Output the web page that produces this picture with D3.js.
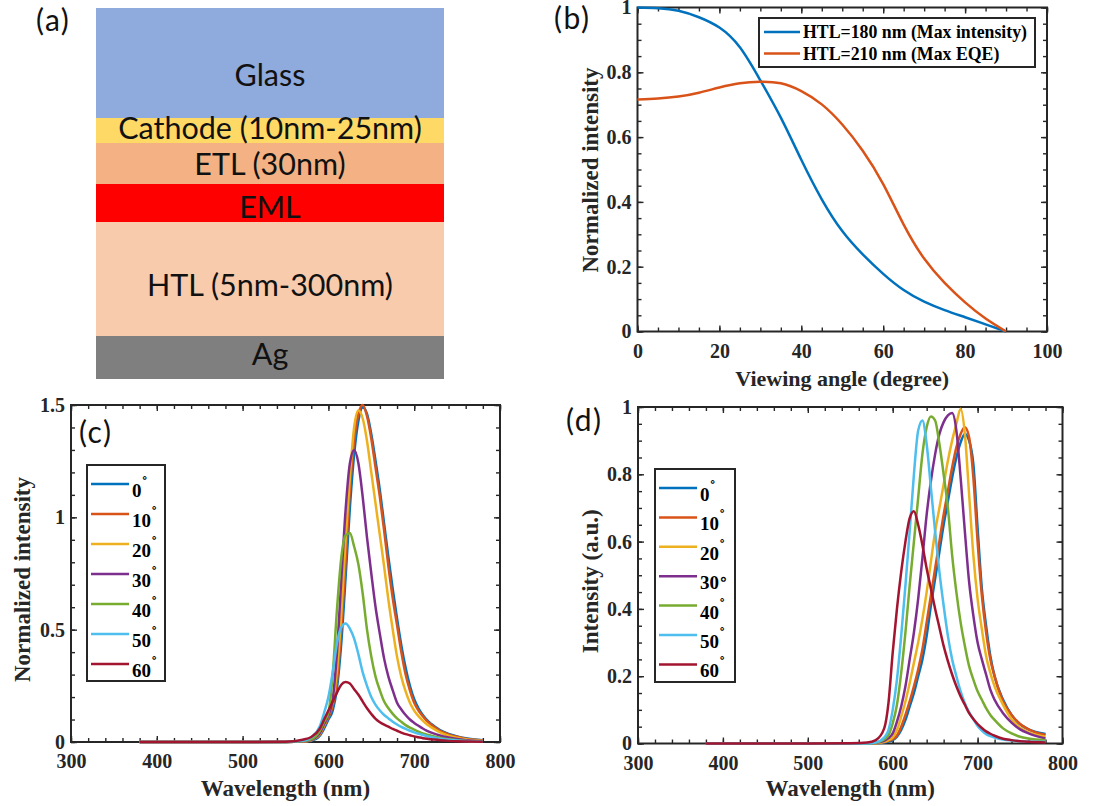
<!DOCTYPE html>
<html>
<head>
<meta charset="utf-8">
<script src="https://cdn.jsdelivr.net/npm/d3@7/dist/d3.min.js"></script>
<style>
html,body{margin:0;padding:0;background:#fff;}
svg{display:block;}
</style>
</head>
<body>
<svg id="fig" width="1106" height="806"></svg>
<script>
// ---------- (a) device stack ----------
const layerNames  = ["Glass", "Cathode (10nm-25nm)", "ETL (30nm)", "EML", "HTL (5nm-300nm)", "Ag"];
const layerWeight = [110, 25, 41, 38, 114, 43];
const layerColors = ["#8FAADC", "#FFD966", "#F4B183", "#FF0000", "#F8CBAD", "#7F7F7F"];

// ---------- (b) angular distribution ----------
const viewAngle = [0, 5, 10, 15, 20, 25, 30, 35, 40, 45, 50, 55, 60, 65, 70, 75, 80, 85, 90];
const htl180 = [1.0, 0.998, 0.99, 0.97, 0.938, 0.877, 0.775, 0.66, 0.53, 0.408, 0.31, 0.238, 0.178, 0.128, 0.092, 0.066, 0.044, 0.022, 0];
const htl210 = [0.716, 0.719, 0.725, 0.737, 0.753, 0.766, 0.771, 0.766, 0.742, 0.701, 0.639, 0.558, 0.455, 0.33, 0.225, 0.15, 0.09, 0.04, 0];
const legendB = ["HTL=180 nm (Max intensity)", "HTL=210 nm (Max EQE)"];
const bTicksX = [0, 20, 40, 60, 80, 100];
const bTicksY = [0, 0.2, 0.4, 0.6, 0.8, 1];

// ---------- (c), (d) spectra ----------
const wavelength = [380, 450, 500, 550, 570, 580, 590, 595, 600, 605, 610, 615, 620, 625, 630, 635, 640, 645,
                    650, 655, 660, 665, 670, 675, 680, 685, 690, 695, 700, 705, 710, 715, 720, 730, 740, 750, 760, 780];
const emitAngles = [0, 10, 20, 30, 40, 50, 60];

// (c) normalized intensity
const normAt0  = [0,0,0,0, 0.002,0.006,0.028,0.06, 0.10,0.14,0.24,0.44,0.73,1.04,1.28,1.43,1.49,1.46, 1.37,1.25,1.12,0.97,0.82,0.68,0.55,0.43,0.33,0.25, 0.19,0.15,0.12,0.097,0.08, 0.053,0.036,0.025,0.017,0.008];
const normAt10 = [0,0,0,0, 0.002,0.008,0.033,0.07, 0.11,0.16,0.27,0.50,0.80,1.12,1.34,1.46,1.50,1.45, 1.35,1.22,1.09,0.94,0.78,0.64,0.52,0.40,0.30,0.23, 0.175,0.14,0.115,0.093,0.077, 0.05,0.034,0.023,0.015,0.007];
const normAt20 = [0,0,0,0, 0.002,0.009,0.037,0.075, 0.12,0.18,0.32,0.57,0.90,1.18,1.40,1.475,1.44,1.34, 1.20,1.06,0.92,0.78,0.63,0.50,0.38,0.29,0.225,0.175, 0.14,0.115,0.095,0.078,0.065, 0.043,0.028,0.019,0.012,0.006];
const normAt30 = [0,0,0,0, 0.003,0.01,0.04,0.08, 0.12,0.19,0.40,0.72,1.03,1.24,1.30,1.24,1.09,0.91, 0.75,0.60,0.48,0.37,0.29,0.23,0.175,0.145,0.12,0.10, 0.085,0.072,0.06,0.05,0.042, 0.029,0.02,0.013,0.008,0.004];
const normAt40 = [0,0,0,0, 0.004,0.012,0.05,0.09, 0.13,0.30,0.59,0.82,0.92,0.93,0.87,0.79,0.66,0.50, 0.38,0.29,0.23,0.18,0.15,0.125,0.105,0.09,0.075,0.064, 0.055,0.046,0.038,0.033,0.028, 0.019,0.012,0.008,0.005,0.003];
const normAt50 = [0,0,0,0, 0.005,0.02,0.07,0.13, 0.20,0.31,0.44,0.51,0.527,0.505,0.46,0.39,0.31,0.25, 0.20,0.165,0.14,0.12,0.105,0.09,0.078,0.067,0.058,0.05, 0.043,0.037,0.031,0.026,0.022, 0.015,0.01,0.007,0.004,0.002];
const normAt60 = [0,0,0,0.001, 0.01,0.022,0.06,0.10, 0.14,0.18,0.22,0.255,0.267,0.26,0.235,0.21,0.18,0.15, 0.125,0.103,0.088,0.077,0.068,0.058,0.05,0.042,0.035,0.03, 0.025,0.021,0.017,0.014,0.012, 0.008,0.005,0.003,0.002,0.001];

// (d) intensity (a.u.)
const intAt0  = [0,0,0,0, 0,0.001,0.003,0.006, 0.01,0.02,0.04,0.07,0.11,0.15,0.20,0.25,0.32,0.41, 0.49,0.57,0.65,0.72,0.79,0.85,0.895,0.92,0.90,0.83, 0.64,0.46,0.35,0.26,0.20, 0.13,0.085,0.057,0.042,0.028];
const intAt10 = [0,0,0,0, 0,0.001,0.004,0.008, 0.013,0.024,0.05,0.085,0.125,0.17,0.22,0.28,0.36,0.44, 0.52,0.60,0.68,0.75,0.82,0.88,0.92,0.94,0.91,0.79, 0.60,0.44,0.33,0.25,0.20, 0.125,0.085,0.058,0.042,0.025];
const intAt20 = [0,0,0,0, 0,0.001,0.005,0.01, 0.018,0.04,0.08,0.125,0.18,0.24,0.30,0.37,0.45,0.54, 0.63,0.70,0.77,0.84,0.90,0.95,0.995,0.92,0.74,0.56, 0.43,0.34,0.26,0.21,0.17, 0.115,0.072,0.047,0.033,0.02];
const intAt30 = [0,0,0,0, 0,0.002,0.008,0.016, 0.03,0.065,0.11,0.17,0.25,0.33,0.43,0.55,0.68,0.78, 0.86,0.92,0.955,0.975,0.982,0.93,0.79,0.63,0.48,0.38, 0.30,0.25,0.205,0.16,0.13, 0.09,0.062,0.042,0.03,0.015];
const intAt40 = [0,0,0,0, 0,0.003,0.012,0.025, 0.06,0.115,0.21,0.33,0.47,0.60,0.73,0.86,0.94,0.972, 0.96,0.89,0.80,0.70,0.56,0.45,0.36,0.29,0.23,0.19, 0.155,0.13,0.105,0.085,0.07, 0.045,0.03,0.02,0.015,0.01];
const intAt50 = [0,0,0,0, 0,0.003,0.018,0.04, 0.10,0.19,0.32,0.47,0.63,0.80,0.93,0.96,0.89,0.76, 0.63,0.51,0.41,0.32,0.25,0.20,0.155,0.12,0.093,0.072, 0.052,0.038,0.028,0.022,0.018, 0.012,0.009,0.007,0.006,0.005];
const intAt60 = [0,0,0,0.001, 0.003,0.01,0.045,0.12, 0.27,0.40,0.51,0.60,0.67,0.69,0.65,0.59,0.52,0.46, 0.40,0.345,0.29,0.245,0.205,0.17,0.14,0.115,0.09,0.073, 0.058,0.046,0.036,0.029,0.023, 0.014,0.01,0.007,0.005,0.003];

const specTicksX = [300, 400, 500, 600, 700, 800];
const cTicksY = [0, 0.5, 1, 1.5];
const dTicksY = [0, 0.2, 0.4, 0.6, 0.8, 1];

const normSeries = [normAt0, normAt10, normAt20, normAt30, normAt40, normAt50, normAt60];
const intSeries  = [intAt0, intAt10, intAt20, intAt30, intAt40, intAt50, intAt60];

// ---------- styling ----------
const LINE_COLORS = ["#0072BD", "#D95319", "#EDB120", "#7E2F8E", "#77AC30", "#4DBEEE", "#A2142F"];
const INK = "#262626";
const SERIF = "'Liberation Serif','Times New Roman',serif";
const SANS = "Lato, Carlito, Calibri, 'Open Sans', sans-serif";
const MAJOR = 6, MINOR = 4;

const svg = d3.select("#fig");
svg.append("rect").attr("width", 1106).attr("height", 806).attr("fill", "#fff");

// ---------- (a) ----------
const gA = svg.append("g");
const stackX = 96, stackW = 348;
const yA = d3.scaleLinear().domain([0, d3.sum(layerWeight)]).range([8, 379]);
const bounds = Array.from(d3.cumsum([0, ...layerWeight]));
const labelNudge = [12, -3, 0, 4, 6, -4];
layerNames.forEach((_, i) => {
  const t = yA(bounds[i]), b = yA(bounds[i + 1]);
  gA.append("rect").attr("x", stackX).attr("y", t).attr("width", stackW).attr("height", b - t)
    .attr("fill", layerColors[i]);
});
layerNames.forEach((name, i) => {
  const t = yA(bounds[i]), b = yA(bounds[i + 1]);
  gA.append("text").attr("x", stackX + stackW / 2).attr("y", (t + b) / 2 + labelNudge[i] + 11)
    .attr("text-anchor", "middle").attr("font-family", SANS).attr("font-size", 30.5)
    .attr("fill", "#111").text(name);
});

// panel letters
const letters = [["(a)", 36, 31], ["(b)", 554, 29], ["(c)", 79, 443], ["(d)", 566, 431]];
letters.forEach(([s, x, y]) => svg.append("text").attr("x", x).attr("y", y)
  .attr("font-family", SANS).attr("font-size", 30).attr("letter-spacing", 1.5)
  .attr("fill", "#111").text(s));

// ---------- axes helper ----------
const fmt = d3.format("~g");
function axesBox(g, x, y, o) {
  const [x0, x1] = x.range(), [yb, yt] = y.range();
  const add = (axis, tx, ty) => {
    const a = g.append("g").attr("transform", `translate(${tx},${ty})`).call(axis);
    a.select(".domain").remove();
    a.attr("color", INK).attr("font-family", SERIF).attr("font-size", 20).attr("font-weight", "bold");
    a.selectAll("line").attr("stroke-width", 1.4);
    return a;
  };
  add(d3.axisBottom(x).tickValues(o.xMinor).tickSize(-MINOR).tickFormat(""), 0, yb);
  add(d3.axisBottom(x).tickValues(o.xMajor).tickSize(-MAJOR).tickPadding(12).tickFormat(fmt), 0, yb);
  add(d3.axisTop(x).tickValues(o.xMinor).tickSize(-MINOR).tickFormat(""), 0, yt);
  add(d3.axisTop(x).tickValues(o.xMajor).tickSize(-MAJOR).tickFormat(""), 0, yt);
  add(d3.axisLeft(y).tickValues(o.yMinor).tickSize(-MINOR).tickFormat(""), x0, 0);
  add(d3.axisLeft(y).tickValues(o.yMajor).tickSize(-MAJOR).tickPadding(6).tickFormat(fmt), x0, 0);
  add(d3.axisRight(y).tickValues(o.yMinor).tickSize(-MINOR).tickFormat(""), x1, 0);
  add(d3.axisRight(y).tickValues(o.yMajor).tickSize(-MAJOR).tickFormat(""), x1, 0);
  g.append("rect").attr("x", x0).attr("y", yt).attr("width", x1 - x0).attr("height", yb - yt)
    .attr("fill", "none").attr("stroke", INK).attr("stroke-width", 2);
  // axis titles
  g.append("text").attr("x", (x0 + x1) / 2).attr("y", o.xTitleY).attr("text-anchor", "middle")
    .attr("font-family", SERIF).attr("font-weight", "bold").attr("font-size", o.xTitleSize).attr("fill", INK)
    .text(o.xTitle);
  g.append("text").attr("transform", `translate(${o.yTitleX},${o.yTitleMid}) rotate(-90)`)
    .attr("text-anchor", "middle").attr("font-family", SERIF).attr("font-weight", "bold")
    .attr("font-size", 23).attr("fill", INK).text(o.yTitle);
}
const stepRange = (a, b, s) => d3.range(Math.round((b - a) / s) + 1).map(i => +(a + i * s).toFixed(4));

// ---------- (b) ----------
const gB = svg.append("g");
const xB = d3.scaleLinear().domain([0, 100]).range([637.5, 1047]);
const yB = d3.scaleLinear().domain([0, 1]).range([331.5, 7.5]);
axesBox(gB, xB, yB, {
  xMajor: bTicksX, xMinor: stepRange(0, 100, 5), yMajor: bTicksY, yMinor: stepRange(0, 1, 0.05),
  xTitle: "Viewing angle (degree)", xTitleY: 386, xTitleSize: 22,
  yTitle: "Normalized intensity", yTitleX: 598, yTitleMid: 170
});
const lineB = d3.line().x(d => xB(d[0])).y(d => yB(d[1])).curve(d3.curveNatural);
[htl180, htl210].forEach((vals, k) => {
  gB.append("path").datum(viewAngle.map((a, i) => [a, vals[i]])).attr("d", lineB)
    .attr("fill", "none").attr("stroke", LINE_COLORS[k]).attr("stroke-width", 2.5);
});
const legB = gB.append("g");
legB.append("rect").attr("x", 759).attr("y", 18).attr("width", 276).attr("height", 49)
  .attr("fill", "#fff").attr("stroke", INK).attr("stroke-width", 2);
legendB.forEach((s, k) => {
  const ry = 32 + k * 21.5;
  legB.append("line").attr("x1", 764).attr("x2", 800).attr("y1", ry).attr("y2", ry)
    .attr("stroke", LINE_COLORS[k]).attr("stroke-width", 2.5);
  legB.append("text").attr("x", 803).attr("y", ry + 6).attr("font-family", SERIF)
    .attr("font-weight", "bold").attr("font-size", 17.8).attr("fill", "#000").text(s);
});

// ---------- spectra panels ----------
function spectrumPanel(series, box, yMax, yMajor, yMinorStep, yTitle, yTitleX, legendBox, inlineDegree) {
  const g = svg.append("g");
  const x = d3.scaleLinear().domain([300, 800]).range([box.x0, box.x1]);
  const y = d3.scaleLinear().domain([0, yMax]).range([box.y1, box.y0]);
  axesBox(g, x, y, {
    xMajor: specTicksX, xMinor: stepRange(300, 800, 20), yMajor, yMinor: stepRange(0, yMax, yMinorStep),
    xTitle: "Wavelength (nm)", xTitleY: 796, xTitleSize: 23,
    yTitle, yTitleX, yTitleMid: (box.y0 + box.y1) / 2 + 6
  });
  const line = d3.line().x(d => x(d[0])).y(d => y(d[1])).curve(d3.curveMonotoneX);
  series.forEach((vals, k) => {
    g.append("path").datum(wavelength.map((w, i) => [w, vals[i]])).attr("d", line)
      .attr("fill", "none").attr("stroke", LINE_COLORS[k]).attr("stroke-width", 2.5);
  });
  // legend
  const L = g.append("g");
  L.append("rect").attr("x", legendBox.x).attr("y", legendBox.y).attr("width", legendBox.w)
    .attr("height", legendBox.h).attr("fill", "#fff").attr("stroke", INK).attr("stroke-width", 2);
  emitAngles.forEach((a, k) => {
    const ry = legendBox.y + 19 + k * legendBox.step;
    L.append("line").attr("x1", legendBox.x + 4).attr("x2", legendBox.x + 42).attr("y1", ry).attr("y2", ry)
      .attr("stroke", LINE_COLORS[k]).attr("stroke-width", 2.5);
    const t = L.append("text").attr("x", legendBox.x + 45).attr("y", ry + 13)
      .attr("font-family", SERIF).attr("font-weight", "bold").attr("font-size", 19).attr("fill", "#000");
    t.append("tspan").text(a);
    if (inlineDegree === a) {
      t.append("tspan").attr("font-family", "'DejaVu Serif',serif").attr("font-weight", "normal")
        .attr("font-size", 18).attr("dy", -4).text("\u2218");
    } else {
      t.append("tspan").attr("font-family", "'DejaVu Serif',serif").attr("font-weight", "normal")
        .attr("font-size", 13).attr("dy", -15).text("\u2218");
    }
  });
}

spectrumPanel(normSeries, {x0: 71, x1: 500, y0: 405, y1: 742}, 1.5, cTicksY, 0.1,
  "Normalized intensity", 30, {x: 87, y: 465, w: 78, h: 216, step: 30}, null);
spectrumPanel(intSeries, {x0: 638, x1: 1062.5, y0: 407, y1: 743.5}, 1, dTicksY, 0.05,
  "Intensity (a.u.)", 598, {x: 655, y: 469, w: 80, h: 213, step: 29.4}, 30);
</script>
</body>
</html>
